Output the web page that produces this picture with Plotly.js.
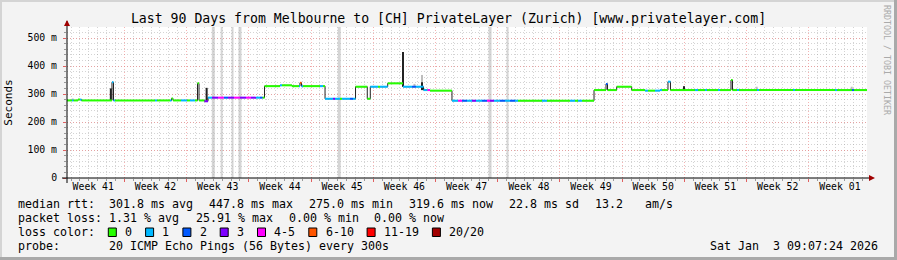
<!DOCTYPE html>
<html><head><meta charset="utf-8">
<script src="https://cdn.plot.ly/plotly-3.0.1.min.js"></script>
<style>html,body{margin:0;padding:0;background:#f3f3f3;}#chart{width:897px;height:260px;}</style>
</head><body><div id="chart"></div>
<script>
// ---------- data (time in days since start of the 90-day window) ----------
const weekLabels = ['Week 41','Week 42','Week 43','Week 44','Week 45','Week 46','Week 47','Week 48','Week 49','Week 50','Week 51','Week 52','Week 01'];
const weekCentres = [2.95, 9.95, 16.95, 23.95, 30.95, 37.95, 44.95, 51.95, 58.95, 65.95, 72.95, 79.95, 86.95];
const yTickVals = [0, 100, 200, 300, 400, 500];
const yTickText = ['0', '100 m', '200 m', '300 m', '400 m', '500 m'];

// median rtt step series: start time, median (ms), loss bucket index
const medStart = [0,0.56,0.73,1.24,1.46,1.63,5.06,5.23,5.40,9.90,10.13,11.59,11.76,11.93,12.83,13.50,13.84,14.40,14.68,14.85,15.47,15.86,16.31,16.99,17.66,18.11,18.79,19.46,20.14,20.70,21.26,21.71,21.99,22.22,23.96,24.19,25.31,26.10,26.21,26.38,26.55,28.46,28.80,29.03,29.93,30.15,30.71,30.94,31.84,32.18,32.46,33.78,34.12,34.99,35.21,36.08,37.80,38.81,39.26,40.11,40.56,40.84,43.31,43.99,44.44,45.00,45.56,46.01,46.69,47.25,47.59,48.04,48.71,49.28,49.84,50.40,50.74,53.44,54.00,56.59,57.15,57.49,57.94,59.29,60.64,60.81,61.84,63.53,65.03,65.36,66.15,66.71,66.94,67.61,67.89,70.65,70.99,71.78,72.00,73.24,73.46,74.70,74.87,75.38,75.60,77.63,77.85,81.68,81.90,86.40,86.63,88.31,88.54];
const medValue = [277,277,277,280,280,277,342,277,277,277,277,277,284,277,277,277,277,277,338,277,274,287,287,287,287,287,287,287,287,287,287,287,287,328,331,331,328,328,340,328,328,328,328,283,283,283,283,283,283,283,326,283,326,326,326,338,326,326,326,314,314,312,276,276,276,276,276,276,276,276,276,276,276,276,276,276,276,276,276,276,276,276,276,314,336,314,326,314,312,312,312,314,314,344,314,314,314,314,314,314,314,350,314,314,314,314,314,314,314,314,314,314,314];
const medLoss  = [0,1,0,0,1,0,1,1,0,1,0,1,0,0,1,0,1,0,0,0,3,1,3,4,2,3,4,3,4,3,1,2,0,0,1,0,0,1,5,1,0,1,0,1,3,1,0,1,2,1,0,0,1,0,1,0,1,2,1,1,4,0,1,4,2,1,3,1,2,4,3,1,2,1,2,1,0,1,0,1,0,1,0,0,2,0,0,0,1,0,1,1,0,1,0,1,0,1,0,1,0,0,0,1,0,1,0,1,0,1,0,2,0];
const windowEnd = 90;

// smoke spikes: time, low, high, shade (0 dark, 1 light)
const smokeT  = [0.64, 4.93, 15.71, 37.80, 39.09, 39.94, 39.94, 69.41, 77.59, 88.28];
const smokeLo = [277, 277, 276, 326, 326, 314, 314, 314, 314, 314];
const smokeHi = [284, 320, 322, 450, 336, 368, 342, 328, 326, 326];
const smokeShade = [1, 0, 0, 0, 1, 1, 0, 0, 1, 1];

// full-height grey bands
const bandT = [16.46, 17.40, 18.62, 19.46, 30.63, 47.59, 49.56];
const bandW = [3, 2, 2, 3, 3, 3, 2];

// legend
const lossLabels = ['0','1','2','3','4-5','6-10','11-19','20/20'];
const lossColors = ['#26ff00','#00b8ff','#0059ff','#7e00ff','#ff00ff','#ff5500','#ff0000','#a10000'];
const yMax = 539.3;

// ---------- geometry helpers (pixel -> paper) ----------
const L = 67, T = 27, W = 800, H = 151;
const px = p => (p - L) / W;
const py = p => (T + H - p) / H;
const MONO = 'DejaVu Sans Mono';

const traces = [];
// grey bands
bandT.forEach((t, i) => traces.push({x:[t,t], y:[0,yMax], mode:'lines', line:{color:'rgba(185,185,185,0.6)', width:bandW[i]}, hoverinfo:'skip', showlegend:false}));
// smoke
const smk = [[],[]];
smokeT.forEach((t, i) => { smk[smokeShade[i]].push([t, smokeLo[i], smokeHi[i]]); });
[['#bdbdbd',1],['#222222',0]].forEach(([col, s]) => {
  const xs = [], ys = [];
  smk[s].forEach(([t, lo, hi]) => { xs.push(t, t, null); ys.push(lo, hi, null); });
  traces.push({x:xs, y:ys, mode:'lines', line:{color:col, width:2}, hoverinfo:'skip', showlegend:false});
});
// black step connectors
traces.push({x: medStart.concat([windowEnd]), y: medValue.concat([medValue[medValue.length-1]]), mode:'lines', line:{shape:'hv', color:'#222', width:1}, hoverinfo:'skip', showlegend:false});
// coloured median segments by loss bucket
lossColors.forEach((col, k) => {
  const xs = [], ys = [];
  medStart.forEach((t, i) => {
    if (medLoss[i] !== k) return;
    const t2 = i + 1 < medStart.length ? medStart[i+1] : windowEnd;
    xs.push(t, t2, null); ys.push(medValue[i], medValue[i], null);
  });
  traces.push({x:xs, y:ys, mode:'lines', line:{color:col, width:2}, name:lossLabels[k], hoverinfo:'skip', showlegend:false});
});
// dummy for label axis
traces.push({x:[null], y:[null], xaxis:'x2', mode:'lines', hoverinfo:'skip', showlegend:false});

const shapes = [];
const ann = [];
// axis lines & arrows
shapes.push({type:'line', xref:'paper', yref:'paper', x0:px(62), x1:px(870), y0:0, y1:0, line:{color:'#000', width:1}});
shapes.push({type:'line', xref:'paper', yref:'paper', x0:0, x1:0, y0:py(183), y1:py(21), line:{color:'#000', width:1}});
shapes.push({type:'path', xref:'paper', yref:'paper', path:`M${px(64)},${py(26)} L${px(70)},${py(26)} L${px(67)},${py(20)} Z`, fillcolor:'#a00000', line:{width:0}});
shapes.push({type:'path', xref:'paper', yref:'paper', path:`M${px(869)},${py(175)} L${px(869)},${py(181)} L${px(875)},${py(178)} Z`, fillcolor:'#a00000', line:{width:0}});
// frame
shapes.push({type:'rect', xref:'paper', yref:'paper', x0:px(0), x1:px(897), y0:py(0), y1:py(2), fillcolor:'#d4d4d4', line:{width:0}});
shapes.push({type:'rect', xref:'paper', yref:'paper', x0:px(0), x1:px(2), y0:py(0), y1:py(260), fillcolor:'#d4d4d4', line:{width:0}});
shapes.push({type:'rect', xref:'paper', yref:'paper', x0:px(894), x1:px(897), y0:py(0), y1:py(260), fillcolor:'#a9a9a9', line:{width:0}});
shapes.push({type:'rect', xref:'paper', yref:'paper', x0:px(0), x1:px(897), y0:py(257), y1:py(260), fillcolor:'#a9a9a9', line:{width:0}});

// text helpers
const FS = 11.63;
function txt(s, x, y, anchor) {
  ann.push({text:s, xref:'paper', yref:'paper', x:px(x), y:py(y), xanchor:anchor||'left', yanchor:'middle', showarrow:false, font:{family:MONO, size:FS, color:'#000'}});
}
const rows = [204.3, 218.3, 232.3, 246.3];
txt('median rtt:', 16, rows[0]);
const rttParts = ['301.8 ms avg','447.8 ms max','275.0 ms min','319.6 ms now','22.8 ms sd','13.2','am/s'];
const rttX = [107.3, 207.3, 307.3, 407.3, 507.3, 593.3, 642.7];
rttParts.forEach((s, i) => txt(s, rttX[i], rows[0]));
txt('packet loss:', 16, rows[1]);
const lossParts = ['1.31 % avg','25.91 % max','0.00 % min','0.00 % now'];
const lossX = [107.3, 194, 286.7, 371.7];
lossParts.forEach((s, i) => txt(s, lossX[i], rows[1]));
txt('loss color:', 16, rows[2]);
let bx = 108.3;
lossLabels.forEach((lab, i) => {
  shapes.push({type:'rect', xref:'paper', yref:'paper', x0:px(bx), x1:px(bx+8), y0:py(236.5), y1:py(228), fillcolor:lossColors[i], line:{color:'#000', width:1}});
  txt(lab, bx + 14.7, rows[2]);
  bx += 14.7 + 7 * lab.length + 15.6;
});
txt('probe:', 16, rows[3]);
txt('20 ICMP Echo Pings (56 Bytes) every 300s', 107.3, rows[3]);
txt('Sat Jan  3 09:07:24 2026', 880, rows[3], 'right');
ann.push({text:'RRDTOOL / TOBI OETIKER', xref:'paper', yref:'paper', x:px(887), y:py(60), textangle:90, xanchor:'center', yanchor:'middle', showarrow:false, font:{family:MONO, size:8.3, color:'#aaaaaa'}});

const gridRed = 'rgba(240,130,130,0.6)';
const gridGrey = 'rgba(160,160,160,0.45)';
const layout = {
  width: 897, height: 260,
  margin: {l: L, r: 897 - L - W, t: T, b: 260 - T - H, pad: 0},
  paper_bgcolor: '#f3f3f3', plot_bgcolor: '#ffffff',
  title: {text:'Last 90 Days from Melbourne to [CH] PrivateLayer (Zurich) [www.privatelayer.com]', font:{family:MONO, size:13.2, color:'#000'}, x:0.5, xanchor:'center', yref:'container', y:1 - 18.5/260, yanchor:'middle'},
  xaxis: {range:[0, windowEnd], tick0:6.45, dtick:7, showticklabels:false, showgrid:true, gridcolor:gridRed, griddash:'1px,2px', gridwidth:1,
          ticks:'outside', ticklen:3, tickcolor:'#e06060', zeroline:false, showline:false, fixedrange:true,
          minor:{tick0:6.45, dtick:1, showgrid:true, gridcolor:gridGrey, griddash:'1px,2px', ticks:'outside', ticklen:2, tickcolor:'#999'}},
  xaxis2: {overlaying:'x', anchor:'y', side:'bottom', range:[0, windowEnd], tickmode:'array', tickvals:weekCentres, ticktext:weekLabels,
           showgrid:false, ticks:'', zeroline:false, showline:false, fixedrange:true, tickfont:{family:MONO, size:9.8, color:'#000'}, ticklabelstandoff:1},
  yaxis: {range:[0, yMax], tickmode:'array', tickvals:yTickVals, ticktext:yTickText, showgrid:true, gridcolor:gridRed, griddash:'1px,2px',
          ticks:'outside', ticklen:3, tickcolor:'#e06060', zeroline:false, showline:false, fixedrange:true,
          tickfont:{family:MONO, size:9.8, color:'#000'}, ticklabelstandoff:4,
          title:{text:'Seconds', font:{family:MONO, size:11, color:'#000'}, standoff:12},
          minor:{tick0:0, dtick:20, showgrid:true, gridcolor:gridGrey, griddash:'1px,2px', ticks:'outside', ticklen:2, tickcolor:'#999'}},
  shapes: shapes, annotations: ann, showlegend:false
};
Plotly.newPlot('chart', traces, layout, {staticPlot:true, displayModeBar:false});
</script></body></html>
